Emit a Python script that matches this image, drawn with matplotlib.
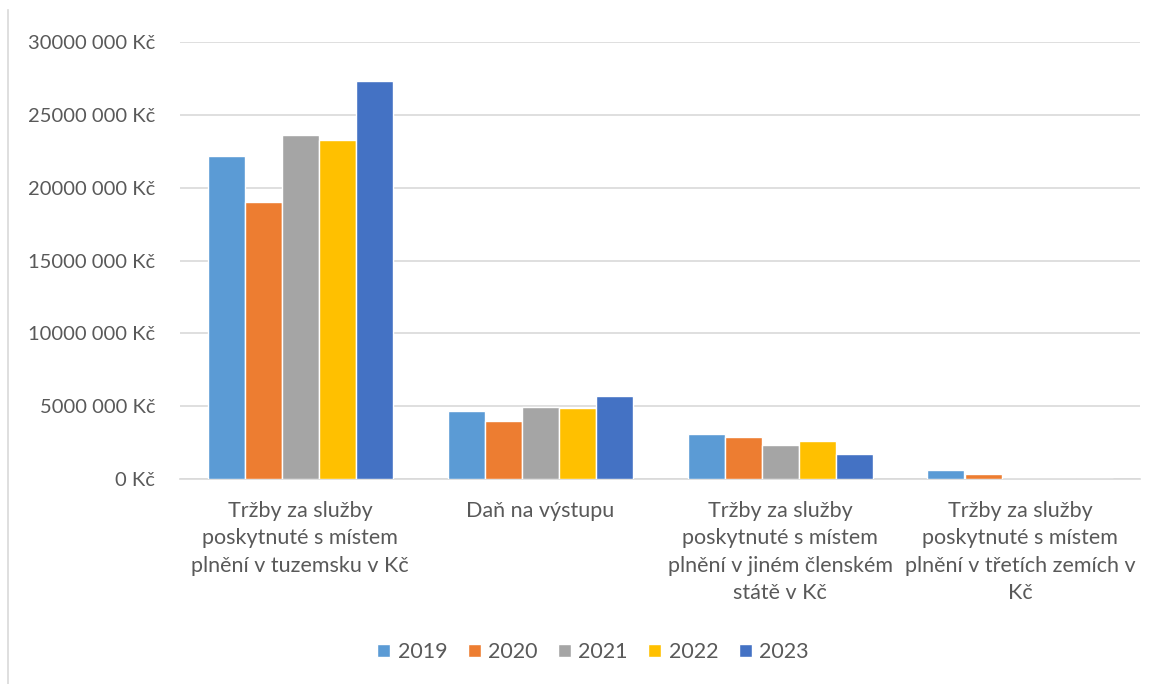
import matplotlib
matplotlib.use("Agg")
import matplotlib.pyplot as plt
import numpy as np

categories = [
    "Tržby za služby\nposkytnuté s místem\nplnění v tuzemsku v Kč",
    "Daň na výstupu",
    "Tržby za služby\nposkytnuté s místem\nplnění v jiném členském\nstátě v Kč",
    "Tržby za služby\nposkytnuté s místem\nplnění v třetích zemích v\nKč",
]
years = ["2019", "2020", "2021", "2022", "2023"]
v2019 = [22_150_000, 4_670_000, 3_090_000, 620_000]
v2020 = [19_000_000, 3_980_000, 2_880_000, 340_000]
v2021 = [23_600_000, 4_940_000, 2_330_000, 0]
v2022 = [23_250_000, 4_870_000, 2_610_000, 0]
v2023 = [27_300_000, 5_700_000, 1_720_000, 0]
series = [v2019, v2020, v2021, v2022, v2023]
colors = ["#5B9BD5", "#ED7D31", "#A5A5A5", "#FFC000", "#4472C4"]
yticks = [0, 5_000_000, 10_000_000, 15_000_000, 20_000_000, 25_000_000, 30_000_000]
ytick_labels = ["0 Kč", "5000 000 Kč", "10000 000 Kč", "15000 000 Kč",
                "20000 000 Kč", "25000 000 Kč", "30000 000 Kč"]

plt.rcParams['font.family'] = ['Lato', 'DejaVu Sans']
text_color = "#595959"

fig = plt.figure(figsize=(11.58, 6.84), dpi=100)
ax = fig.add_axes([180/1158, 1-479/684, 960/1158, (479-42)/684])

x = np.arange(len(categories))
step = 37/240
for i, (vals, c, y) in enumerate(zip(series, colors, years)):
    ax.bar(x + (i-2)*step, vals, width=step, color=c, edgecolor="white",
           linewidth=1.0, label=y, zorder=3)

ax.set_xlim(-0.5, len(categories)-0.5)
ax.set_ylim(0, 30_000_000)
ax.set_yticks(yticks)
ax.set_yticklabels(ytick_labels, fontsize=14.5, color=text_color)
ax.set_xticks(x)
ax.set_xticklabels(categories, fontsize=15.5, color=text_color, linespacing=1.45, va="top")
ax.tick_params(axis="y", length=0, pad=18)
ax.tick_params(axis="x", length=0, pad=16)
ax.grid(axis="y", color="#D9D9D9", linewidth=1.2, zorder=0)
for s in ["top", "right", "left"]:
    ax.spines[s].set_visible(False)
ax.spines["bottom"].set_color("#D9D9D9")
ax.spines["bottom"].set_linewidth(1.2)

leg = fig.legend(loc="center", bbox_to_anchor=(593/1158, 1-652/684), ncol=5,
                 frameon=False, fontsize=15.5, handlelength=0.6, handleheight=0.6,
                 handletextpad=0.35, columnspacing=0.95)
for t in leg.get_texts():
    t.set_color(text_color)

# chart border (left edge)
fig.add_artist(plt.Line2D([8/1158, 8/1158], [0, 1-10/684], transform=fig.transFigure,
                          color="#D9D9D9", linewidth=1.2))

fig.savefig("out.png", dpi=100)
